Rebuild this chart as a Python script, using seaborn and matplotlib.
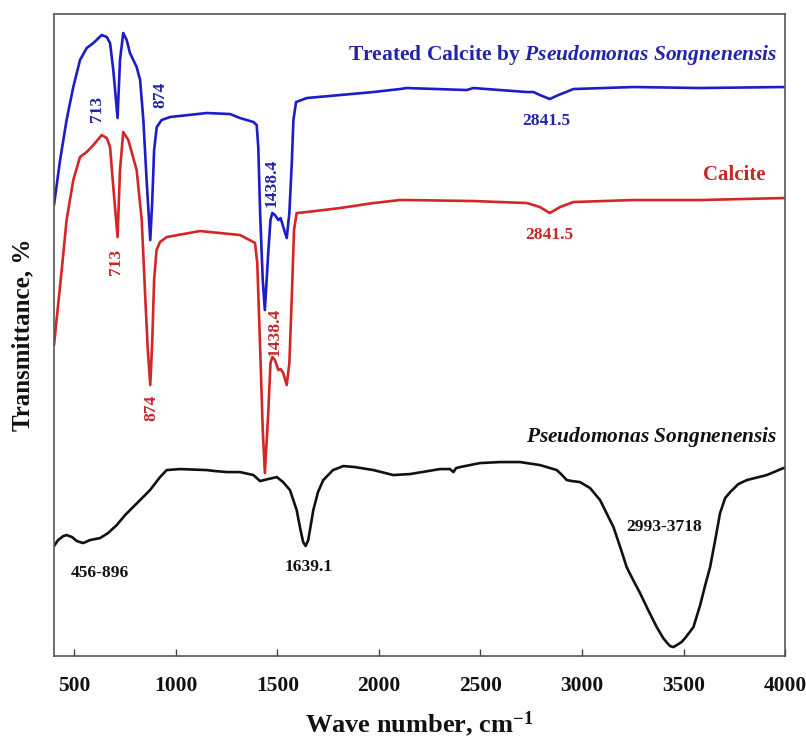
import numpy as np
import pandas as pd
import matplotlib
matplotlib.use("Agg")
import matplotlib.pyplot as plt
import seaborn as sns

# ---- spectra (wave number, cm^-1  /  stacked transmittance, offset units) ----
treated_wn = [400, 430, 462, 495, 528, 561, 594, 635, 660, 676, 692, 713, 725, 741, 758, 774,
              807, 824, 840, 856, 874, 884, 893, 906, 930, 971, 1152, 1267, 1316, 1382, 1398,
              1406, 1415, 1428, 1438.4, 1455, 1466, 1475, 1488, 1505, 1516, 1529, 1546, 1559,
              1571, 1579, 1592, 1645, 1809, 1973, 2104, 2137, 2432, 2465, 2728, 2761, 2793,
              2841.5, 2884, 2958, 3253, 3582, 3992, 4000]
treated_t = [451, 496, 536, 569, 596, 608, 613, 621, 619, 613, 586, 538, 596, 623, 616, 603,
             589, 576, 536, 476, 416, 456, 506, 529, 536, 539, 543, 542, 538, 534, 531,
             509, 443, 376, 346, 403, 436, 443, 441, 436, 438, 429, 418, 443,
             493, 536, 554, 558, 561, 564, 567, 568, 566, 568, 564, 564, 561,
             557, 561, 567, 569, 568, 569, 569]

calcite_wn = [400, 438, 462, 495, 528, 561, 594, 635, 660, 676, 692, 713, 725, 741, 766, 807,
              832, 850, 862, 874, 884, 893, 905, 922, 955, 1119, 1316, 1382, 1390, 1401, 1415,
              1428, 1438.4, 1455, 1466, 1475, 1488, 1505, 1516, 1529, 1546, 1559, 1571, 1582,
              1595, 1645, 1809, 1973, 2104, 2137, 2465, 2728, 2761, 2793, 2841.5, 2892, 2958,
              3253, 3582, 3992, 4000]
calcite_t = [311, 386, 436, 476, 499, 504, 511, 521, 518, 509, 469, 419, 486, 524, 516, 486,
             436, 356, 306, 271, 316, 376, 406, 414, 419, 425, 421, 414, 413, 393, 309,
             226, 183, 243, 293, 299, 296, 286, 287, 283, 271, 293, 359, 426,
             443, 444, 448, 453, 456, 456, 455, 453, 451, 449, 443, 449, 454,
             456, 456, 458, 458]

bacteria_wn = [400, 420, 446, 462, 489, 512, 544, 577, 627, 666, 709, 750, 824, 873, 922, 955,
               1021, 1152, 1193, 1251, 1316, 1382, 1415, 1455, 1497, 1528, 1562, 1595, 1612,
               1627, 1639.1, 1652, 1677, 1700, 1726, 1774, 1825, 1882, 1973, 2071, 2153, 2301,
               2350, 2367, 2380, 2400, 2498, 2596, 2695, 2793, 2843, 2876, 2902, 2925, 2951,
               2990, 3040, 3089, 3155, 3190, 3220, 3252, 3286, 3326, 3368, 3400, 3420, 3434,
               3450, 3467, 3490, 3508, 3549, 3582, 3607, 3631, 3656, 3680, 3705, 3730, 3770,
               3812, 3910, 3992, 4000]
bacteria_t = [110, 116, 120, 121, 119, 115, 113, 116, 118, 123, 131, 141, 156, 166, 179, 186,
              187, 186, 185, 184, 184, 181, 175, 177, 179, 174, 166, 146, 128,
              114, 110, 116, 146, 164, 176, 186, 190, 189, 186, 181, 182, 187,
              187, 184, 188, 189, 193, 194, 194, 191, 188, 186, 181, 176, 175,
              174, 168, 156, 129, 108, 89, 76, 63, 46, 29, 18, 13, 10,
              9, 11, 14, 18, 29, 51, 71, 89, 116, 143, 158, 164, 172,
              176, 181, 188, 188]

samples = ["Treated Calcite", "Calcite", "Pseudomonas Songnenensis"]
x_ticks = [500, 1000, 1500, 2000, 2500, 3000, 3500, 4000]

# peak labels: (text, x, y, sample)
peak_labels = [
    ("713", 614, 547, "Treated Calcite"),
    ("874", 922, 561, "Treated Calcite"),
    ("1438.4", 1471, 473, "Treated Calcite"),
    ("713", 705, 394, "Calcite"),
    ("874", 878, 248, "Calcite"),
    ("1438.4", 1488, 324, "Calcite"),
]
flat_labels = [
    ("2841.5", 2822, 535, "Treated Calcite"),
    ("2841.5", 2838, 421, "Calcite"),
    ("456-896", 627, 83, "Pseudomonas Songnenensis"),
    ("1639.1", 1656, 89, "Pseudomonas Songnenensis"),
    ("2993-3718", 3404, 129, "Pseudomonas Songnenensis"),
]

line_colors = {"Treated Calcite": "#1c1cc8", "Calcite": "#d42626",
               "Pseudomonas Songnenensis": "#111111"}
text_colors = {"Treated Calcite": "#2424a8", "Calcite": "#c82828",
               "Pseudomonas Songnenensis": "#111111"}

df = pd.concat([
    pd.DataFrame({"wn": treated_wn, "T": treated_t, "sample": samples[0]}),
    pd.DataFrame({"wn": calcite_wn, "T": calcite_t, "sample": samples[1]}),
    pd.DataFrame({"wn": bacteria_wn, "T": bacteria_t, "sample": samples[2]}),
], ignore_index=True)

sns.set_style("ticks")
plt.rcParams["font.family"] = ["Liberation Serif", "DejaVu Serif"]
plt.rcParams["font.weight"] = "bold"
plt.rcParams["text.color"] = "#111111"
plt.rcParams["axes.labelcolor"] = "#111111"
plt.rcParams["xtick.labelcolor"] = "#111111"
plt.rcParams["mathtext.fontset"] = "custom"
plt.rcParams["mathtext.rm"] = "Liberation Serif:bold"
plt.rcParams["mathtext.bf"] = "Liberation Serif:bold"
plt.rcParams["mathtext.it"] = "Liberation Serif:italic:bold"
plt.rcParams["mathtext.default"] = "bf"

fig = plt.figure(figsize=(8.06, 7.38), dpi=100)
ax = fig.add_axes([0.067, 0.111, 0.907, 0.870])

sns.lineplot(data=df, x="wn", y="T", hue="sample", palette=line_colors,
             sort=False, estimator=None, legend=False, linewidth=1.9, ax=ax)

ax.set_xlim(400, 4000)
ax.set_ylim(0, 642)
ax.set_xticks(x_ticks)
ax.set_xticklabels([str(t) for t in x_ticks], fontsize=15.5, fontweight="bold",
                   color="#111111")
ax.set_yticks([])
ax.tick_params(axis="x", direction="in", length=5, width=1.0, color="#444444", pad=14)
for s in ax.spines.values():
    s.set_visible(True)
    s.set_color("#555555")
    s.set_linewidth(1.2)

ax.set_xlabel("Wave number, cm$^{-1}$", fontsize=19, fontweight="bold", labelpad=10,
              color="#111111")
ax.set_ylabel("Transmittance, %", fontsize=18, fontweight="bold", labelpad=14,
              color="#111111")

for txt, x, y, s in peak_labels:
    ax.text(x, y, txt, rotation=90, ha="center", va="center", fontsize=12.5,
            fontweight="bold", color=text_colors[s])
for txt, x, y, s in flat_labels:
    ax.text(x, y, txt, ha="center", va="center", fontsize=12.5,
            fontweight="bold", color=text_colors[s])

ax.text(3961, 601, r"$\mathbf{Treated\ Calcite\ by}$ $\mathit{Pseudomonas\ Songnenensis}$",
        ha="right", va="center", fontsize=15.5, color=text_colors["Treated Calcite"])
ax.text(3749, 481, "Calcite", ha="center", va="center", fontsize=15,
        fontweight="bold", color=text_colors["Calcite"])
ax.text(3961, 219, r"$\mathit{Pseudomonas\ Songnenensis}$", ha="right", va="center",
        fontsize=15.4, color=text_colors["Pseudomonas Songnenensis"])

fig.savefig("out.png", dpi=100)
